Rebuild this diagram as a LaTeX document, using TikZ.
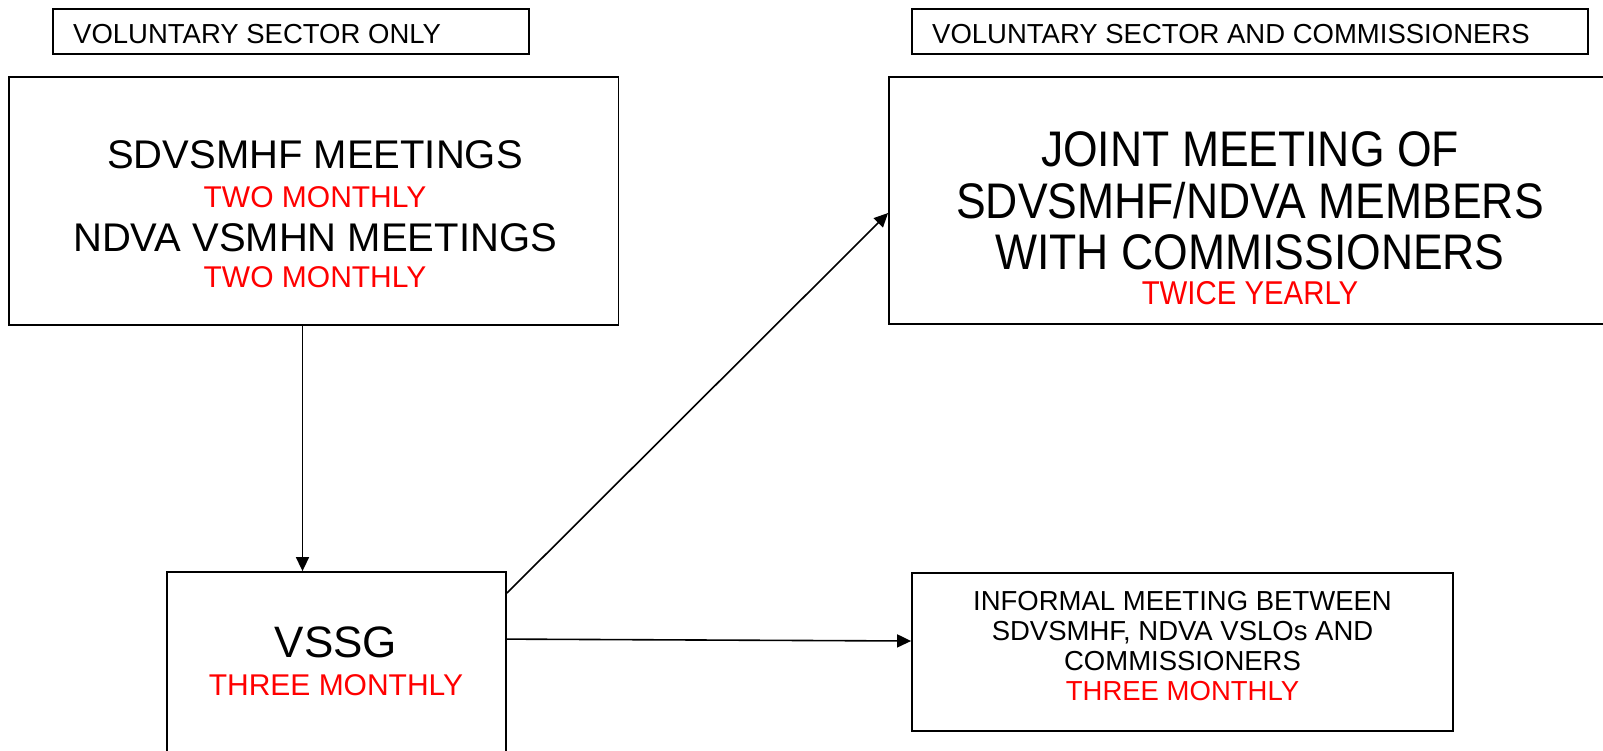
\documentclass[tikz,border=0pt]{standalone}
\usepackage{fontspec}
\setmainfont{Liberation Sans}
\newfontfamily\narrowsf[FakeStretch=0.89]{Liberation Sans}
\usetikzlibrary{arrows.meta,calc}

\tikzset{
  box/.style={draw, line width=1.8pt, inner sep=0pt},
  arr/.style={line width=1.6pt, -{Triangle[length=14pt,width=13pt]}},
  tag/.style={anchor=base west, inner sep=0pt, font=\fontsize{27.5}{30}\selectfont},
  line/.style={anchor=base, inner sep=0pt},
  freq/.style={line, text=red}
}

\begin{document}
\begin{tikzpicture}[x=1pt, y=-1pt]
  \useasboundingbox (0,0) rectangle (1603,750);
  \clip (0,0) rectangle (1603,750);

  % top labels
  \node[box, minimum width=476pt, minimum height=45pt] (onlybox) at (291,31.5) {};
  \node[tag] (onlytxt) at (73,43) {VOLUNTARY SECTOR ONLY};
  \node[box, minimum width=676pt, minimum height=45pt] (andbox) at (1250,31.5) {};
  \node[tag] (andtxt) at (932,43) {VOLUNTARY SECTOR AND COMMISSIONERS};

  % boxes
  \node[box, minimum width=609.5pt, minimum height=248pt] (sdv) at (313.75,201) {};
  \node[box, minimum width=751pt, minimum height=247pt] (joint) at (1264.5,200.5) {};
  \node[box, minimum width=339pt, minimum height=228pt] (vssg) at (336.5,686) {};
  \node[box, minimum width=541pt, minimum height=158pt] (informal) at (1182.5,652) {};

  % texts
  \node[line, font=\fontsize{40}{44}\selectfont] (sdvA) at (315,168) {SDVSMHF MEETINGS};
  \node[freq, font=\fontsize{30}{33}\selectfont] (sdvB) at (315,207) {TWO MONTHLY};
  \node[line, font=\fontsize{40}{44}\selectfont] (sdvC) at (315,251) {NDVA VSMHN MEETINGS};
  \node[freq, font=\fontsize{30}{33}\selectfont] (sdvD) at (315,287) {TWO MONTHLY};

  \node[line, font=\narrowsf\fontsize{50}{54}\selectfont] (jointA) at (1250,166.5) {JOINT MEETING OF};
  \node[line, font=\narrowsf\fontsize{50}{54}\selectfont] (jointB) at (1250,218) {SDVSMHF/NDVA MEMBERS};
  \node[line, font=\narrowsf\fontsize{50}{54}\selectfont] (jointC) at (1250,269) {WITH COMMISSIONERS};
  \node[freq, font=\narrowsf\fontsize{33}{36}\selectfont] (jointD) at (1250,304.5) {TWICE YEARLY};

  \node[line, font=\fontsize{44}{48}\selectfont] (vssgA) at (336,657) {VSSG};
  \node[freq, font=\fontsize{30}{33}\selectfont] (vssgB) at (336,695) {THREE MONTHLY};

  \node[line, font=\fontsize{27.5}{30}\selectfont] (infA) at (1182.5,610) {INFORMAL MEETING BETWEEN};
  \node[line, font=\fontsize{27.5}{30}\selectfont] (infB) at (1182.5,640) {SDVSMHF, NDVA VSLOs AND};
  \node[line, font=\fontsize{27.5}{30}\selectfont] (infC) at (1182.5,670) {COMMISSIONERS};
  \node[freq, font=\fontsize{27.5}{30}\selectfont] (infD) at (1182.5,700) {THREE MONTHLY};

  % arrows
  \coordinate (drop) at (302.5,0);
  \draw[arr] (sdv.south -| drop) -- (vssg.north -| drop);
  \draw[arr] ($(vssg.north east)+(0,22)$) -- ($(joint.west)+(0,12.5)$);
  \draw[arr] ($(vssg.north east)+(0,68)$) -- ($(informal.west)+(0,-11)$);
\end{tikzpicture}
\end{document}
